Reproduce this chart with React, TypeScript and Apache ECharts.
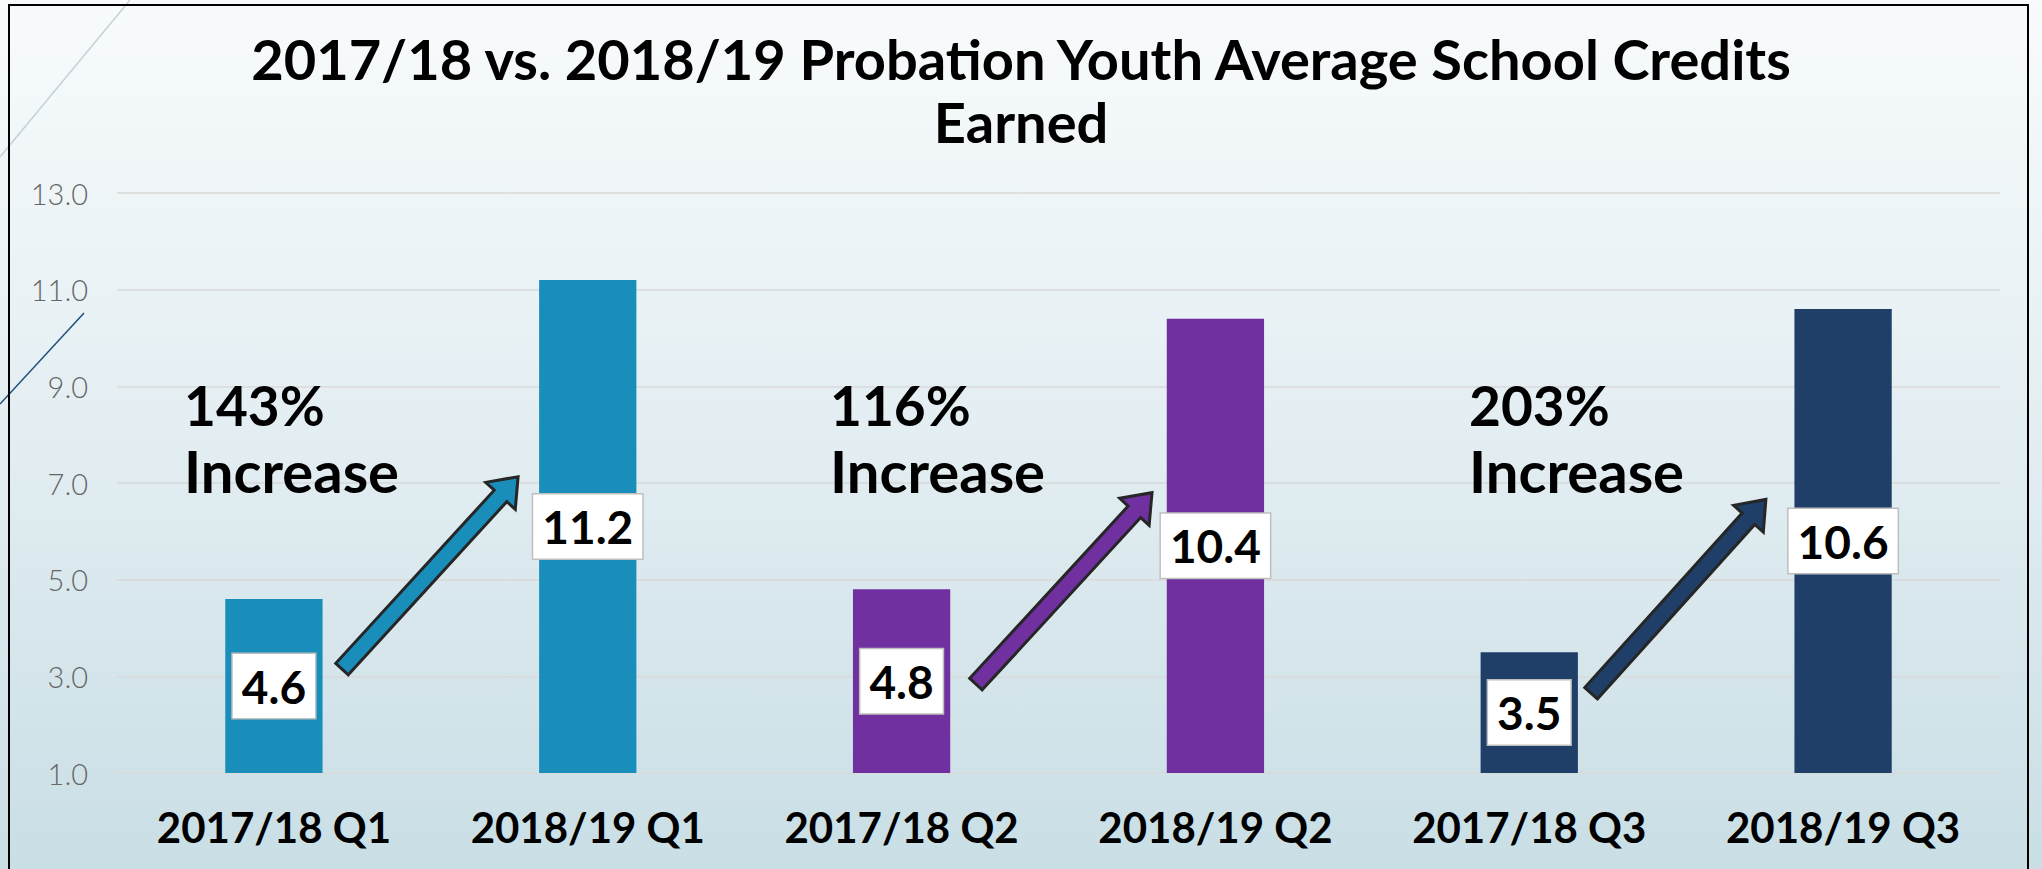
import React, { useEffect, useRef } from "react";
import * as echarts from "echarts";

const categories = ["2017/18 Q1", "2018/19 Q1", "2017/18 Q2", "2018/19 Q2", "2017/18 Q3", "2018/19 Q3"];
const values = [4.6, 11.2, 4.8, 10.4, 3.5, 10.6];
const yMin = 1;
const yMax = 13;
const yInterval = 2;
const increasePct = ["143%", "116%", "203%"];
const increaseWord = "Increase";
// arrows: [categoryPosition, value] for tail and tip
const arrowTails = [[0.217, 3.15], [2.237, 2.84], [4.197, 2.65]];
const arrowTips = [[0.778, 7.13], [2.798, 6.8], [4.754, 6.66]];

const barColors = ["#198EBB", "#198EBB", "#7030A0", "#7030A0", "#1F3F69", "#1F3F69"];
const arrowColors = ["#198EBB", "#7030A0", "#1F3F69"];
const annotationX = [184, 830, 1469];
const FONT = "Lato, 'Liberation Sans', sans-serif";

export default function App() {
  const ref = useRef<HTMLDivElement>(null);
  useEffect(() => {
    document.body.style.margin = "0";
    const chart = echarts.init(ref.current!, null, { renderer: "svg" });
    const W = 2042, H = 869;
    chart.setOption({
      animation: false,
      title: {
        text: "2017/18 vs. 2018/19 Probation Youth Average School Credits\nEarned",
        left: "center",
        top: 22,
        textStyle: { fontFamily: FONT, fontSize: 56, fontWeight: "bold", color: "#000", lineHeight: 63, align: "center" },
      },
      grid: { left: 117, right: 42, top: 193, bottom: 96, containLabel: false },
      xAxis: {
        type: "category",
        data: categories,
        axisLine: { show: false },
        axisTick: { show: false },
        axisLabel: { interval: 0, fontFamily: FONT, fontSize: 42, fontWeight: "bold", color: "#000", margin: 33 },
      },
      yAxis: {
        type: "value",
        min: yMin,
        max: yMax,
        interval: yInterval,
        axisLine: { show: false },
        axisTick: { show: false },
        splitLine: { lineStyle: { color: "#D9D9D9", width: 1.5 } },
        axisLabel: {
          fontFamily: FONT, fontSize: 29, fontWeight: 300, color: "#666666", margin: 29,
          formatter: (v: number) => v.toFixed(1),
        },
      },
      series: [
        {
          type: "bar",
          barWidth: "31%",
          data: values.map((v, i) => ({ value: v, itemStyle: { color: barColors[i] } })),
          label: {
            show: true,
            position: "inside",
            formatter: (p: any) => Number(p.value).toFixed(1),
            fontFamily: FONT,
            fontSize: 46,
            fontWeight: "bold",
            color: "#000",
            backgroundColor: "#fff",
            borderColor: "#BFBFBF",
            borderWidth: 1.5,
            padding: [10, 9, 8, 9],
          },
        },
      ],
    });

    const toPx = (pos: number, val: number) => {
      const i0 = Math.floor(pos);
      const p0 = chart.convertToPixel({ xAxisIndex: 0, yAxisIndex: 0 }, [i0, val]) as number[];
      const p1 = chart.convertToPixel({ xAxisIndex: 0, yAxisIndex: 0 }, [i0 + 1, val]) as number[];
      return [p0[0] + (p1[0] - p0[0]) * (pos - i0), p0[1]];
    };

    const graphics: any[] = [
      {
        type: "rect", z: -100, silent: true,
        shape: { x: 0, y: 0, width: W, height: H },
        style: {
          fill: new echarts.graphic.LinearGradient(0, 0, 0, 1, [
            { offset: 0, color: "#F8FBFC" },
            { offset: 0.5, color: "#E3EEF2" },
            { offset: 1, color: "#C9DEE5" },
          ]),
        },
      },
      { type: "line", z: 50, shape: { x1: 130, y1: 0, x2: 0, y2: 157 }, style: { stroke: "#C3D2DA", lineWidth: 1.5 } },
      { type: "line", z: 50, shape: { x1: 84, y1: 313, x2: 0, y2: 404 }, style: { stroke: "#1F4E79", lineWidth: 1.5 } },
      {
        type: "polyline", z: 50,
        shape: { points: [[9, H + 10], [9, 5], [2028, 5], [2028, H + 10]] },
        style: { stroke: "#000", lineWidth: 2, fill: null },
      },
    ];

    increasePct.forEach((t, i) => {
      graphics.push({
        type: "text", z: 60, x: annotationX[i], y: 405,
        style: { text: t, font: `bold 55px ${FONT}`, fill: "#000", verticalAlign: "middle", align: "left" },
      });
      graphics.push({
        type: "text", z: 60, x: annotationX[i], y: 470,
        style: { text: increaseWord, font: `bold 58px ${FONT}`, fill: "#000", verticalAlign: "middle", align: "left" },
      });
    });

    arrowTails.forEach((tl, i) => {
      const a = toPx(tl[0], tl[1]);
      const b = toPx(arrowTips[i][0], arrowTips[i][1]);
      const dx = b[0] - a[0], dy = b[1] - a[1];
      const len = Math.hypot(dx, dy);
      const ux = dx / len, uy = dy / len;
      const nx = -uy, ny = ux;
      const w = 8.5, h = 20, L = 26;
      const bx = b[0] - ux * L, by = b[1] - uy * L;
      const pts = [
        [a[0] + nx * w, a[1] + ny * w],
        [bx + nx * w, by + ny * w],
        [bx + nx * h, by + ny * h],
        [b[0], b[1]],
        [bx - nx * h, by - ny * h],
        [bx - nx * w, by - ny * w],
        [a[0] - nx * w, a[1] - ny * w],
      ];
      graphics.push({
        type: "polygon", z: 70,
        shape: { points: pts },
        style: { fill: arrowColors[i], stroke: "#262626", lineWidth: 3, lineJoin: "miter" },
      });
    });

    chart.setOption({ graphic: graphics });
    return () => chart.dispose();
  }, []);
  return <div ref={ref} style={{ width: 2042, height: 869 }} />;
}
